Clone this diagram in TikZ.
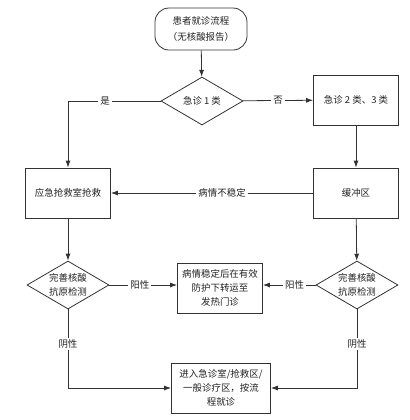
\documentclass[tikz,border=0pt]{standalone}
\usepackage{fontspec}
\setmainfont{Noto Sans CJK SC}
\usetikzlibrary{shapes.geometric,arrows.meta}
\definecolor{linegray}{HTML}{333333}
\definecolor{textgray}{HTML}{222222}
\begin{document}
\begin{tikzpicture}[x=1bp,y=-1bp,
    font=\fontsize{9.5}{14}\selectfont,
    box/.style={draw=linegray,line width=0.8pt,text=textgray,align=center,
      minimum width=85bp,minimum height=50bp,inner sep=2pt},
    decision/.style={diamond,aspect=1.7,draw=linegray,line width=0.8pt,
      text=textgray,align=center,minimum width=82bp,minimum height=48bp,inner sep=0pt},
    startbox/.style={draw=linegray,line width=0.8pt,text=textgray,align=center,
      rounded corners=14bp,minimum width=92bp,minimum height=42bp},
    arr/.style={draw=linegray,line width=0.8pt,-{Latex[length=7bp,width=5bp]}},
    lbl/.style={fill=white,text=textgray,inner sep=2pt}]
      \useasboundingbox (0,0) rectangle (410,420);
      \node[startbox] (start) at (201,29) {患者就诊流程\\[2pt]（无核酸报告）};
      \node[decision] (level1) at (202,101) {急诊 1 类};
      \node[box] (level23) at (356,100) {急诊 2 类、3 类};
      \node[box] (rescue) at (68,193) {应急抢救室抢救};
      \node[box] (buffer) at (356,193) {缓冲区};
      \node[decision] (testleft) at (68,285) {完善核酸\\抗原检测};
      \node[decision] (testright) at (357,285) {完善核酸\\抗原检测};
      \node[box] (fever) at (220,288) {病情稳定后在有效\\防护下转运至\\发热门诊};
      \node[box,minimum width=99bp] (enter) at (221,388) {进入急诊室/抢救区/\\一般诊疗区，按流\\程就诊};
      \draw[arr] (start) -- (level1);
      \draw[arr] (level1) -- node[lbl] (no) {否} (level23);
      \draw[arr] (level1.west) -| node[lbl,pos=0.3] (yes) {是} (rescue.north);
      \draw[arr] (level23) -- (buffer);
      \draw[arr] (buffer) -- node[lbl,pos=0.45] (unstable) {病情不稳定} (rescue);
      \draw[arr] (rescue) -- (testleft);
      \draw[arr] (buffer) -- (testright);
      \draw[arr] (testleft.east) -- node[lbl,pos=0.45] (posleft) {阳性} (testleft.east -| fever.west);
      \draw[arr] (testright.west) -- node[lbl,pos=0.4] (posright) {阳性} (testright.west -| fever.east);
      \draw[arr] (testleft.south) |- node[lbl,pos=0.22] (negleft) {阴性} (enter.west);
      \draw[arr] (testright.south) |- node[lbl,pos=0.22] (negright) {阴性} (enter.east);
    \end{tikzpicture}
\end{document}
